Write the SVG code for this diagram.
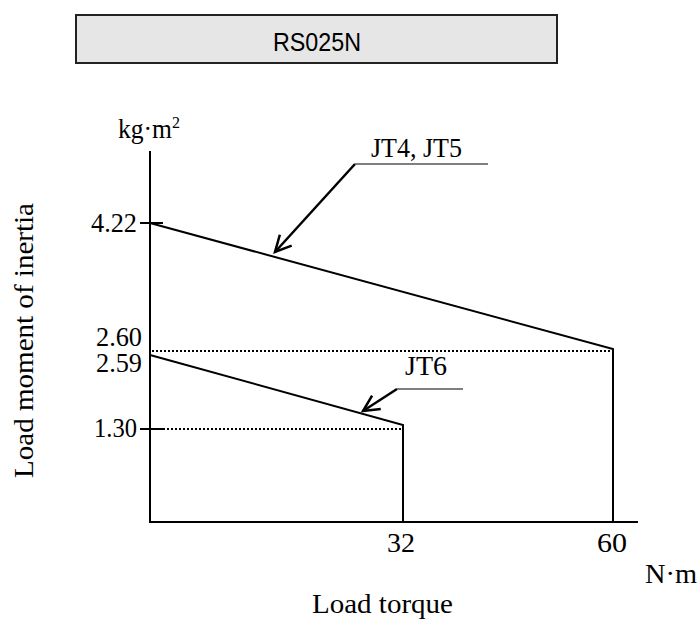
<svg xmlns="http://www.w3.org/2000/svg" width="699" height="623" viewBox="0 0 699 623">
<style>
.t{font-family:"Liberation Serif","Times New Roman",serif;fill:#000;}
.n{font-size:27px;}
.ax{stroke:#000;stroke-width:2;fill:none;}
.ln{stroke:#000;stroke-width:2;fill:none;}
.dot{stroke:#000;stroke-width:2;stroke-dasharray:2 2;fill:none;}
.lead{stroke:#000;stroke-width:2.5;fill:none;}
.ul{stroke:#555;stroke-width:1.3;fill:none;}
</style>
<defs>
<marker id="arr" markerUnits="userSpaceOnUse" markerWidth="26" markerHeight="26" refX="17" refY="9" orient="auto" viewBox="0 0 26 18">
<path d="M1,1 L17,9 L1,17" fill="none" stroke="#000" stroke-width="2.5"/>
</marker>
</defs>
<rect width="699" height="623" fill="#fff"/>
<g id="title">
<rect x="76" y="15" width="481" height="48" fill="#e6e6e6" stroke="#222" stroke-width="2"/>
<text x="273" y="51" font-family="Liberation Sans, Arial, sans-serif" font-size="25" textLength="88" lengthAdjust="spacingAndGlyphs">RS025N</text>
</g>
<g id="axes">
<path class="ax" d="M150,151 V522 H638"/>
<path class="ax" d="M140,223 H163 M140,429 H163"/>
</g>
<g id="jt45">
<path class="ln" d="M150,223 L613,349 V522"/>
<path class="dot" d="M152,351 H611"/>
</g>
<g id="jt6">
<path class="ln" d="M150,355 L403,425 V522"/>
<path class="dot" d="M163,429 H401"/>
</g>
<g id="connectors">
<path class="lead" d="M355,164 L275,252" marker-end="url(#arr)"/>
<path class="ul" d="M355,164 H488"/>
<path class="lead" d="M397,389 L363,411" marker-end="url(#arr)"/>
<path class="ul" d="M397,389 H463"/>
</g>
<g id="labels">
<text class="t n" x="118" y="138"><tspan textLength="54" lengthAdjust="spacingAndGlyphs">kg·m</tspan><tspan font-size="16" dy="-10">2</tspan></text>
<text class="t n" x="91" y="232" textLength="46" lengthAdjust="spacingAndGlyphs">4.22</text>
<text class="t n" x="96" y="346" textLength="46" lengthAdjust="spacingAndGlyphs">2.60</text>
<text class="t n" x="96" y="372" textLength="46" lengthAdjust="spacingAndGlyphs">2.59</text>
<text class="t n" x="94" y="437" textLength="43" lengthAdjust="spacingAndGlyphs">1.30</text>
<text class="t n" x="387" y="552" textLength="28" lengthAdjust="spacingAndGlyphs">32</text>
<text class="t n" x="597" y="552" textLength="30" lengthAdjust="spacingAndGlyphs">60</text>
<text class="t n" x="645" y="583" textLength="52" lengthAdjust="spacingAndGlyphs">N·m</text>
<text class="t" x="312" y="613" font-size="28" textLength="141" lengthAdjust="spacingAndGlyphs">Load torque</text>
<text class="t" x="33" y="478" font-size="28" textLength="275" lengthAdjust="spacingAndGlyphs" transform="rotate(-90 33 478)">Load moment of inertia</text>
<text class="t n" x="371" y="157" textLength="91" lengthAdjust="spacingAndGlyphs">JT4, JT5</text>
<text class="t n" x="405" y="375" textLength="42" lengthAdjust="spacingAndGlyphs">JT6</text>
</g>
</svg>
